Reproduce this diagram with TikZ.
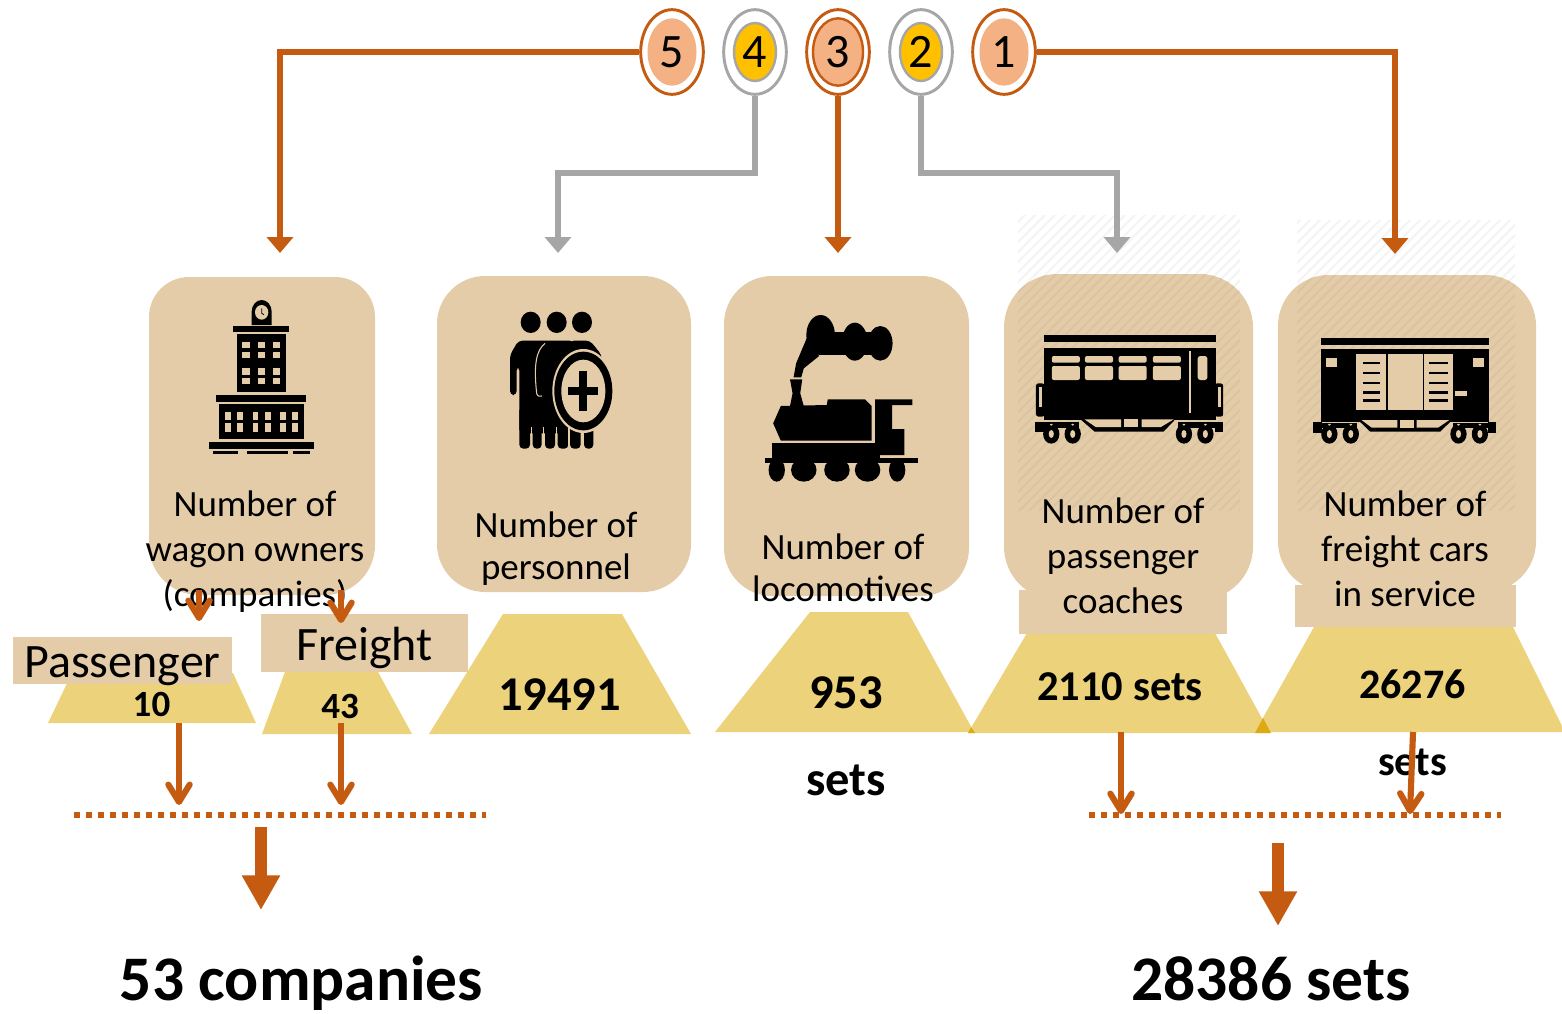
\documentclass[tikz,border=0pt]{standalone}
\usepackage{fontspec}
\setmainfont{Carlito}
\usetikzlibrary{arrows.meta,shapes.geometric}
\definecolor{org}{HTML}{C55A11}
\definecolor{gry}{HTML}{A6A6A6}
\definecolor{sal}{HTML}{F4B183}
\definecolor{gld}{HTML}{FFC000}
\definecolor{tan}{HTML}{E4CCA8}
\definecolor{sand}{HTML}{EBD27B}
\definecolor{ochre}{HTML}{DDAA14}
\newcommand{\fs}[2]{\fontsize{\dimexpr#1pt*3/4\relax}{\dimexpr#2pt*3/4\relax}\selectfont}
\tikzset{
  x=0.75pt,y=-0.75pt,
  ring/.style={ellipse,draw,line width=2.2pt,fill=white,inner sep=0pt,minimum width=47pt,minimum height=63.5pt},
  ringo/.style={ring,draw=org},
  ringg/.style={ring,draw=gry},
  core/.style={ellipse,inner sep=0pt,font=\fs{48}{48}},
  link/.style={line width=4pt,-{Triangle[width=19.5pt,length=12pt]}},
  barb/.style={draw=org,line width=4.6pt,-{Straight Barb[length=13pt,width=16pt,line cap=round,round]}},
  bigarrow/.style={draw=org,line width=9pt,-{Triangle[width=27pt,length=26pt]}},
  dots/.style={draw=org,line width=4.5pt,dash pattern=on 4.5pt off 4.5pt},
  lab/.style={align=center,inner sep=0pt,text=black},
  val/.style={inner sep=0pt,font=\fs{48.5}{48}\bfseries},
  card/.style={fill=tan},
  tz/.style={fill=sand},
  zoomtwo/.style={shift={(140,280)},x=0.25pt,y=-0.25pt},
  zoomthree/.style={shift={(740,280)},x=0.3827pt,y=-0.25pt},
}
\begin{document}
\begin{tikzpicture}
\useasboundingbox (0,0) rectangle (1562,1013);

% faint hatch behind the two right cards
\begin{scope}
\clip (1018,215) rectangle (1240,510) (1297,220) rectangle (1515,510);
\foreach \k in {700,710,...,1520}{\draw[gray!9,line width=1.6pt] (\k,520) -- (\k+320,200);}
\end{scope}

% cards
\fill[card] (149,317) arc[start angle=180,end angle=270,radius=40] -- (335,277) arc[start angle=270,end angle=360,radius=40] -- (375,545) arc[start angle=0,end angle=90,x radius=50,y radius=50] -- (199,595) arc[start angle=90,end angle=180,radius=50] -- cycle;
\fill[card,rounded corners=36pt] (437,276) rectangle (691,592);
\fill[card,rounded corners=36pt] (724,276) rectangle (969,596);
\fill[card,rounded corners=40pt] (1004,274) rectangle (1253,600);
\fill[card,rounded corners=38pt] (1278,275) rectangle (1536,592);

% hatch over the two right cards
\begin{scope}
\clip[rounded corners=40pt] (1004,274) rectangle (1253,600);
\clip (1018,215) rectangle (1240,510);
\foreach \k in {700,710,...,1250}{\draw[black!4!tan,line width=1.6pt] (\k,520) -- (\k+320,200);}
\end{scope}
\begin{scope}
\clip[rounded corners=38pt] (1278,275) rectangle (1536,592);
\clip (1297,220) rectangle (1515,510);
\foreach \k in {980,990,...,1520}{\draw[black!4!tan,line width=1.6pt] (\k,520) -- (\k+320,200);}
\end{scope}

% trapezoids
\fill[tz] (48,723) -- (72,673) -- (233,673) -- (256,723) -- cycle;
\fill[tz] (262,734) -- (285,672) -- (378,672) -- (412,734) -- cycle;
\fill[tz] (429,734) -- (503,614) -- (622,614) -- (691,734) -- cycle;
\fill[tz] (715,732) -- (810,612) -- (908,612) -- (974,732) -- cycle;
\fill[tz] (968,733) -- (1027,633) -- (1215,633) -- (1270,733) -- cycle;
\fill[tz] (1255,732) -- (1314,627) -- (1513,627) -- (1565,732) -- cycle;
\fill[ochre] (968,733) -- (971,727) -- (975,733) -- cycle;
\fill[ochre] (1255,733) -- (1263,718) -- (1271,733) -- cycle;

% label tabs
\fill[card] (1019,590) rectangle (1227,634);
\fill[card] (1295,585) rectangle (1516,627);
\node[card,minimum width=164.25pt,minimum height=35.25pt,inner sep=0pt] (pasbox) at (122.5,660.5) {};
\node[card,minimum width=155.25pt,minimum height=43.5pt,inner sep=0pt] (frebox) at (364.5,643) {};
\node[lab,font=\fs{48}{48}] (pas) at (122.5,666) {Passenger};
\node[lab,font=\fs{48}{48}] (fre) at (364.5,648) {Freight};

% building icon
\begin{scope}[zoomtwo]
\fill (335,135) -- (335,95) arc[start angle=180,end angle=360,x radius=30,y radius=35] -- (395,135) -- cycle;
\fill[tan] (365,97) ellipse[x radius=20,y radius=22];
\draw[line width=.6pt] (365,85) -- (365,100) -- (372,104);
\fill (280,138) rectangle (448,157);
\fill (292,163) rectangle (437,335);
\foreach \a in {307,353,399}{\foreach \b in {185,215,265,293}{\fill[tan] (\a,\b) rectangle (\a+22,\b+20);}}
\fill (229,345) rectangle (498,365);
\fill (238,373) rectangle (491,478);
\foreach \a in {255,292,338,375,420,457}{\foreach \b in {395,430}{\fill[tan] (\a,\b) rectangle (\a+17,\b+25);}}
\fill (207,486) rectangle (522,506);
\fill (218,513) rectangle (294,522);
\fill (321,513) rectangle (443,522);
\fill (460,513) rectangle (510,522);
% personnel icon
\fill (1172,127) ellipse[x radius=30,y radius=32];
\fill (1250,127) ellipse[x radius=30,y radius=32];
\fill (1326,127) ellipse[x radius=30,y radius=32];
\fill[rounded corners=3pt] (1290,182) -- (1350,182) -- (1385,225) -- (1385,300) -- (1290,300) -- cycle;
\fill[rounded corners=3pt] (1110,345) -- (1110,225) -- (1135,182) -- (1300,182) -- (1340,240) -- (1340,460) -- (1138,460) -- (1138,260) -- (1130,260) -- (1130,345) -- cycle;
\foreach \a/\b in {1138/1170,1178/1205,1215/1245,1253/1285,1290/1322,1332/1360}{\fill[rounded corners=3pt] (\a,380) rectangle (\b,506);}
\foreach \a in {1174,1211,1249,1287,1326}{\draw[tan,line width=.9pt] (\a,440) -- (\a,506);}
\draw[tan,line width=.8pt] (1215,190) .. controls (1190,210) and (1180,250) .. (1190,340) .. controls (1192,350) and (1200,350) .. (1206,348);
\fill[tan] (1330,333) ellipse[x radius=93,y radius=126];
\fill (1330,333) ellipse[x radius=87,y radius=118];
\fill[tan] (1330,333) ellipse[x radius=66,y radius=94];
\fill (1318,273) rectangle (1342,393);
\fill (1285,322) rectangle (1375,346);
\end{scope}

% locomotive, coach and freight car icons
\begin{scope}[zoomthree]
\fill (158,165) ellipse[x radius=28,y radius=60];
\fill (225,185) ellipse[x radius=25,y radius=57];
\fill (275,190) ellipse[x radius=24,y radius=52];
\fill (160,155) rectangle (270,225);
\fill (132,170) -- (110,250) -- (105,292) -- (120,292) -- (125,265) -- (155,228) -- cycle;
\fill (98,298) -- (122,298) -- (118,340) -- (125,378) -- (98,378) -- (103,340) -- cycle;
\fill (65,430) -- (80,378) -- (170,375) -- (172,358) -- (245,358) -- (258,378) -- (258,482) -- (80,482) -- cycle;
\fill (265,358) -- (338,358) -- (338,375) -- (298,375) -- (298,447) -- (322,447) -- (322,525) -- (265,525) -- cycle;
\fill (62,490) rectangle (275,550);
\fill (48,535) rectangle (348,550);
\foreach \a/\r in {72/16,308/16,125/25,190/25,250/25}{\fill (\a,570) ellipse[x radius=\r,y radius=35];}

% coach
\fill (595,165) rectangle (932,186);
\fill (595,203) rectangle (932,420);
\foreach \a in {611,676,742,809}{\fill[tan,rounded corners=1.5pt] (\a,228) rectangle (\a+55,248);\fill[tan,rounded corners=1.5pt] (\a,258) rectangle (\a+55,300);}
\fill[tan,rounded corners=2pt] (897,228) rectangle (916,300);
\fill[tan] (880,213) rectangle (884,400);
\fill[rounded corners=2pt] (580,310) rectangle (597,410);
\fill[rounded corners=2pt] (930,310) rectangle (947,410);
\fill[tan] (585,320) rectangle (591,380);
\fill[tan] (936,320) rectangle (942,380);
\fill (665,415) -- (855,415) -- (830,455) -- (695,455) -- cycle;
\fill[tan] (675,418) -- (747,418) -- (747,441) -- (697,441) -- cycle;
\fill[tan] (753,418) rectangle (780,441);
\fill[tan] (787,418) -- (850,418) -- (825,441) -- (787,441) -- cycle;
\fill (578,425) rectangle (597,455);
\fill (930,425) rectangle (947,455);
\fill (597,425) rectangle (665,445);
\fill (858,425) rectangle (932,445);
\foreach \a in {610,652,870,912}{\fill (\a,462) ellipse[x radius=16,y radius=29];\fill[tan] (\a,462) ellipse[x radius=5,y radius=12];\fill[tan] (\a,434) ellipse[x radius=3,y radius=3];}

% freight car
\fill (1139,175) rectangle (1467,195);
\fill (1139,208) rectangle (1467,425);
\fill[tan] (1207,222) rectangle (1397,390);
\fill (1266,222) rectangle (1269,390);
\fill (1338,222) rectangle (1341,390);
\foreach \b in {245,275,305,333,358}{\fill (1220,\b) rectangle (1255,\b+8);\fill (1350,\b) rectangle (1387,\b+8);}
\fill[tan] (1148,234) rectangle (1170,262);
\fill[tan] (1436,234) rectangle (1458,262);
\fill[tan] (1402,332) rectangle (1424,347);
\fill (1210,418) -- (1397,418) -- (1372,455) -- (1235,455) -- cycle;
\fill[tan] (1218,420) -- (1288,420) -- (1288,443) -- (1238,443) -- cycle;
\fill[tan] (1294,420) rectangle (1320,443);
\fill[tan] (1326,420) -- (1390,420) -- (1368,443) -- (1326,443) -- cycle;
\fill (1123,425) rectangle (1141,458);
\fill (1465,425) rectangle (1482,458);
\fill (1141,428) rectangle (1210,445);
\fill (1397,428) rectangle (1465,445);
\foreach \a in {1155,1197,1408,1450}{\fill (\a,462) ellipse[x radius=16,y radius=29];\fill[tan] (\a,462) ellipse[x radius=5,y radius=12];\fill[tan] (\a,434) ellipse[x radius=3,y radius=3];}
\end{scope}

% card labels
\node[lab,font=\fs{37}{45},anchor=center] (t1) at (255,552) {Number of\\wagon owners\\(companies)};
\node[lab,font=\fs{37}{42},anchor=center] (t2) at (556,549) {Number of\\personnel};
\node[lab,font=\fs{37}{42},anchor=center] (t3) at (843,568) {Number of\\locomotives};
\node[lab,font=\fs{37}{45},anchor=center] (t4) at (1123,556) {Number of\\passenger\\coaches};
\node[lab,font=\fs{37}{45},anchor=center] (t5) at (1405,549) {Number of\\freight cars\\in service};

% values
\node[val,font=\fs{37}{37}\bfseries] (v1) at (151.5,704) {10};
\node[val,font=\fs{37}{37}\bfseries] (v2) at (340,706) {43};
\node[val] (v3) at (559.5,695) {19491};
\node[val] (v4) at (846,693) {953};
\node[val] (v5) at (846,780) {sets};
\node[val,font=\fs{42.5}{42}\bfseries] (v6) at (1120,687) {2110 sets};
\node[val,font=\fs{42}{42}\bfseries] (v7) at (1412.5,684) {26276};
\node[val,font=\fs{42}{42}\bfseries] (v8) at (1412.5,762) {sets};
\node[val,font=\fs{63.5}{64}\bfseries,anchor=base] (r1) at (301.5,1000) {53 companies};
\node[val,font=\fs{63.5}{64}\bfseries,anchor=base] (r2) at (1271,1000) {28386 sets};

% numbered badges
\node[ringo] (c5) at (672,52) {};
\node[ringg] (c4) at (755,52) {};
\node[ringo] (c3) at (838,52) {};
\node[ringg] (c2) at (921,52) {};
\node[ringo] (c1) at (1004,52) {};
\node[core,fill=sal,minimum width=36.75pt,minimum height=50.5pt] (n5) at (c5) {5};
\node[core,draw=gry,line width=1.8pt,fill=gld,minimum width=31.5pt,minimum height=43.5pt] (n4) at (c4) {4};
\node[core,draw=org,line width=1.8pt,fill=sal,minimum width=37.5pt,minimum height=50.5pt] (n3) at (c3) {3};
\node[core,draw=gry,line width=1.8pt,fill=gld,minimum width=31.5pt,minimum height=43.5pt] (n2) at (c2) {2};
\node[core,fill=sal,minimum width=36.75pt,minimum height=50.5pt] (n1) at (c1) {1};

% connector ends
\coordinate (e5) at (280,253);
\coordinate (e4) at (558,253);
\coordinate (e3) at (838,253);
\coordinate (e2) at (1117,253);
\coordinate (e1) at (1395,254);
\draw[link,draw=org] (c5.west) -- (e5 |- c5.west) -- (e5);
\draw[link,draw=gry] (c4.south) -- (755,173) -- (558,173) -- (e4);
\draw[link,draw=org] (c3.south) -- (e3);
\draw[link,draw=gry] (c2.south) -- (921,173) -- (1117,173) -- (e2);
\draw[link,draw=org] (c1.east) -- (e1 |- c1.east) -- (e1);

% sum lines
\coordinate (d1a) at (74,815);
\coordinate (d1b) at (486,815);
\coordinate (d2a) at (1089,815);
\coordinate (d2b) at (1501,815);
\draw[dots] (d1a) -- (d1b);
\draw[dots] (d2a) -- (d2b);

% split and sum arrows
\coordinate (a1s) at (199,590); \coordinate (a1e) at (199,621);
\coordinate (a2s) at (341,590); \coordinate (a2e) at (341,623);
\coordinate (a3s) at (179,723); \coordinate (a3e) at (179,805);
\coordinate (a4s) at (341,723); \coordinate (a4e) at (341,805);
\coordinate (a5s) at (1121,732); \coordinate (a5e) at (1121,814);
\coordinate (a6s) at (1413,732); \coordinate (a6e) at (1410,814);
\foreach \n in {1,...,6}{\draw[barb] (a\n s) -- (a\n e);}
\coordinate (b1s) at (261,827); \coordinate (b1e) at (261,910);
\coordinate (b2s) at (1278,843); \coordinate (b2e) at (1278,926);
\draw[bigarrow] (b1s) -- (b1e);
\draw[bigarrow] (b2s) -- (b2e);
\end{tikzpicture}
\end{document}
